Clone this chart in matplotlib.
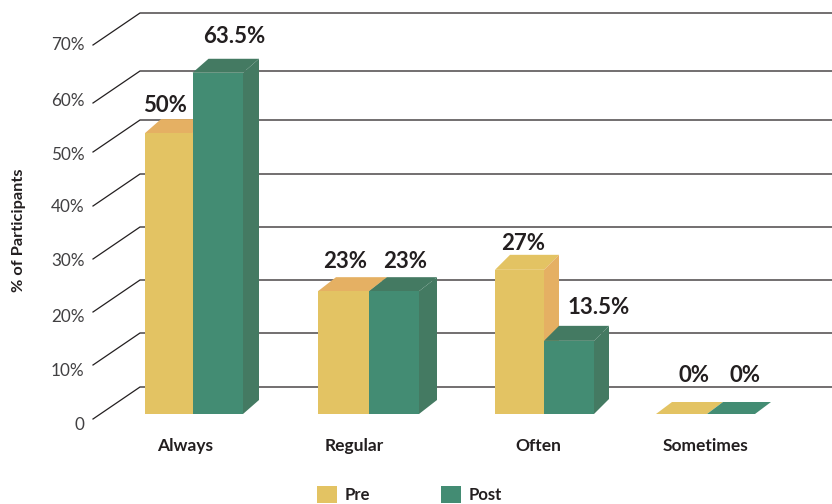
import matplotlib
matplotlib.use("Agg")
import matplotlib.pyplot as plt
from matplotlib.patches import Polygon, Patch
from matplotlib.transforms import Affine2D

categories = ["Always", "Regular", "Often", "Sometimes"]
pre_labels = ["50%", "23%", "27%", "0%"]
post_labels = ["63.5%", "23%", "13.5%", "0%"]
pre_heights = [52.6, 23.0, 27.0, 0.0]
post_heights = [63.9, 23.0, 13.7, 0.0]
tick_values = [0, 10, 20, 30, 40, 50, 60, 70]
tick_labels = ["0", "10%", "20%", "30%", "40%", "50%", "60%", "70%"]

# layout, in reference pixels
W, H = 832, 504
BASE = 414
UNIT = 5.34
LEFT = 93
pre_left = [145, 318, 495, 656]
split = [192.5, 369, 544, 707]
right = [243, 419, 594, 755]
depth_x = [16, 18, 15, 16]
depth_y = [14, 14, 15, 12]
label_x = [185, 354, 538, 706]
wall_rows = [387, 333, 280, 227, 174, 120, 71, 13]
tick_rows = [424, 370, 315, 260, 205, 153, 99, 44]
pre_label_pos = [(165, 105), (345, 262), (523, 244), (694, 375)]
post_label_pos = [(234, 37), (405, 262), (599, 307), (745, 375)]

YEL, ORG = "#E3C363", "#E5B063"
GRN, DGRN = "#438C73", "#447A62"
INK = "#231F20"
SANS = "Lato"


def v(row):
    return (BASE - row) / UNIT


fig = plt.figure(figsize=(W / 100, H / 100), dpi=100)
top_row = BASE - 70 * UNIT
ax = fig.add_axes([LEFT / W, 1 - BASE / H, (W - LEFT) / W, (BASE - top_row) / H])
ax.set_xlim(LEFT, W)
ax.set_ylim(0, 70)
for s in ax.spines.values():
    s.set_visible(False)

for row in wall_rows:
    ax.plot([LEFT, 140, W], [v(row + 32), v(row), v(row)], color=INK, lw=0.9,
            clip_on=False, zorder=1, solid_joinstyle="miter")


def bar3d(x0, x1, h, dx, dy, front, top, side, z):
    ax.bar(x0, h, width=x1 - x0, align="edge", color=front, linewidth=0, zorder=z + 0.2)
    d = dy / UNIT
    ax.add_patch(Polygon([(x0, h), (x1, h), (x1 + dx, h + d), (x0 + dx, h + d)],
                         closed=True, fc=front if h == 0 else top, ec="none",
                         clip_on=False, zorder=z))
    if h > 0:
        ax.add_patch(Polygon([(x1, 0), (x1 + dx, d), (x1 + dx, h + d), (x1, h)],
                             closed=True, fc=side, ec="none", clip_on=False, zorder=z))


for i in range(len(categories)):
    pre_top = YEL if categories[i] == "Often" else ORG
    bar3d(pre_left[i], split[i], pre_heights[i], depth_x[i], depth_y[i], YEL, pre_top, ORG, 2)
    bar3d(split[i], right[i], post_heights[i], depth_x[i], depth_y[i], GRN, DGRN, DGRN, 3)
    for txt, (px, row) in ((pre_labels[i], pre_label_pos[i]), (post_labels[i], post_label_pos[i])):
        ax.text(px, v(row), txt, ha="center", va="center", fontsize=16, fontweight="bold",
                color=INK, family=SANS, zorder=5, clip_on=False)

ax.set_yticks(tick_values, tick_labels, family=SANS, fontsize=12.3, color="#414042")
ax.tick_params(axis="y", length=0, pad=6)
for lab, val, row in zip(ax.get_yticklabels(), tick_values, tick_rows):
    lab.set_transform(lab.get_transform() + Affine2D().translate(0, (BASE - val * UNIT) - row))

ax.set_xticks(label_x, categories, family=SANS, fontsize=12.5, fontweight="bold", color=INK)
ax.tick_params(axis="x", length=0, pad=17)

fig.text(19 / W, 1 - 230 / H, "% of Participants", rotation=90, ha="center", va="center",
         family=SANS, fontsize=11.8, fontweight="bold", color=INK)

handles = [Patch(color=YEL, label="Pre", lw=0), Patch(color=GRN, label="Post", lw=0)]
leg = fig.legend(handles=handles, loc="lower left", bbox_to_anchor=(317 / W, 1 / H), ncol=2,
                 frameon=False, borderpad=0, borderaxespad=0, handlelength=1.2, handleheight=1.14,
                 handletextpad=0.48, columnspacing=4.2,
                 prop={"family": SANS, "weight": "bold", "size": 12})
for t in leg.get_texts():
    t.set_color(INK)

fig.savefig("out.png", dpi=100)
